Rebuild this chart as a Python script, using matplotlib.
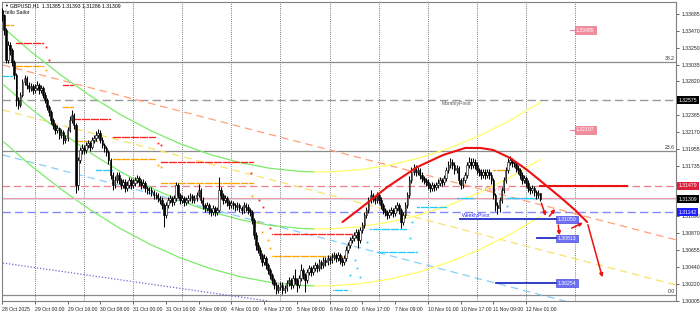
import matplotlib
matplotlib.use("Agg")
import matplotlib.pyplot as plt
import matplotlib.transforms as mtrans
import numpy as np

# ---------------- data ----------------
first_open = 1.3372
closes = [
 1.3367,1.3348,1.3309,1.3329,1.3322,1.3307,1.3290,1.3258,1.3252,1.3265,
 1.3281,1.3286,1.3277,1.3274,1.3276,1.3271,1.3274,1.3277,1.3271,1.3274,
 1.3265,1.3258,1.3249,1.3243,1.3232,1.3226,1.3220,1.3222,1.3213,1.3217,
 1.3207,1.3209,1.3220,1.3232,1.3239,1.3226,1.3149,1.3181,1.3194,1.3196,
 1.3194,1.3200,1.3203,1.3198,1.3207,1.3209,1.3213,1.3216,1.3207,1.3200,
 1.3196,1.3191,1.3181,1.3162,1.3149,1.3155,1.3162,1.3155,1.3149,1.3153,
 1.3145,1.3149,1.3155,1.3149,1.3152,1.3155,1.3158,1.3153,1.3149,1.3152,
 1.3145,1.3143,1.3143,1.3140,1.3136,1.3136,1.3132,1.3130,1.3123,1.3110,
 1.3123,1.3130,1.3132,1.3127,1.3132,1.3149,1.3136,1.3130,1.3132,1.3127,
 1.3130,1.3132,1.3135,1.3130,1.3132,1.3136,1.3143,1.3130,1.3123,1.3119,
 1.3123,1.3117,1.3114,1.3119,1.3114,1.3117,1.3143,1.3136,1.3130,1.3132,
 1.3127,1.3123,1.3126,1.3123,1.3121,1.3123,1.3119,1.3117,1.3123,1.3121,
 1.3117,1.3114,1.3104,1.3085,1.3072,1.3066,1.3059,1.3050,1.3055,1.3046,
 1.3040,1.3033,1.3027,1.3021,1.3014,1.3018,1.3021,1.3014,1.3017,1.3023,
 1.3027,1.3021,1.3030,1.3027,1.3021,1.3030,1.3040,1.3033,1.3027,1.3037,
 1.3042,1.3037,1.3042,1.3046,1.3042,1.3050,1.3046,1.3053,1.3050,1.3055,
 1.3053,1.3057,1.3059,1.3055,1.3059,1.3053,1.3050,1.3055,1.3066,1.3072,
 1.3078,1.3081,1.3085,1.3089,1.3078,1.3091,1.3098,1.3110,1.3117,1.3130,
 1.3136,1.3132,1.3130,1.3136,1.3130,1.3123,1.3117,1.3114,1.3110,1.3114,
 1.3117,1.3113,1.3119,1.3123,1.3117,1.3101,1.3110,1.3123,1.3136,1.3155,
 1.3166,1.3171,1.3166,1.3168,1.3162,1.3158,1.3155,1.3153,1.3149,1.3145,
 1.3149,1.3146,1.3149,1.3152,1.3155,1.3153,1.3158,1.3168,1.3175,1.3179,
 1.3175,1.3168,1.3171,1.3155,1.3149,1.3155,1.3162,1.3175,1.3179,1.3175,
 1.3179,1.3175,1.3168,1.3166,1.3162,1.3166,1.3162,1.3166,1.3162,1.3155,
 1.3136,1.3123,1.3119,1.3130,1.3143,1.3155,1.3168,1.3179,1.3181,1.3177,
 1.3177,1.3171,1.3168,1.3162,1.3155,1.3158,1.3152,1.3145,1.3143,1.3145,
 1.3140,1.3136,1.31385,1.31309]
highs = [
 1.3376,1.3369,1.3350,1.3334,1.3333,1.3325,1.3310,1.3293,1.3262,1.3268,
 1.3285,1.3290,1.3289,1.3281,1.3280,1.3279,1.3278,1.3282,1.3280,1.3277,
 1.3276,1.3268,1.3260,1.3252,1.3245,1.3235,1.3229,1.3226,1.3224,1.3221,
 1.3219,1.3213,1.3224,1.3237,1.3245,1.3241,1.3228,1.3185,1.3198,1.3201,
 1.3200,1.3204,1.3207,1.3206,1.3211,1.3213,1.3218,1.3221,1.3219,1.3210,
 1.3203,1.3199,1.3194,1.3183,1.3165,1.3160,1.3166,1.3165,1.3158,1.3157,
 1.3156,1.3154,1.3159,1.3158,1.3156,1.3159,1.3162,1.3161,1.3156,1.3156,
 1.3154,1.3148,1.3147,1.3146,1.3143,1.3140,1.3139,1.3135,1.3133,1.3126,
 1.3127,1.3134,1.3136,1.3135,1.3136,1.3153,1.3151,1.3139,1.3136,1.3135,
 1.3134,1.3136,1.3139,1.3138,1.3136,1.3140,1.3150,1.3145,1.3133,1.3126,
 1.3127,1.3126,1.3120,1.3123,1.3122,1.3121,1.3159,1.3147,1.3139,1.3136,
 1.3135,1.3130,1.3130,1.3129,1.3126,1.3127,1.3126,1.3122,1.3127,1.3126,
 1.3124,1.3120,1.3117,1.3106,1.3088,1.3076,1.3069,1.3062,1.3060,1.3058,
 1.3049,1.3043,1.3036,1.3030,1.3024,1.3022,1.3025,1.3024,1.3021,1.3027,
 1.3031,1.3030,1.3034,1.3041,1.3030,1.3034,1.3047,1.3043,1.3036,1.3041,
 1.3046,1.3045,1.3046,1.3050,1.3049,1.3054,1.3053,1.3057,1.3056,1.3059,
 1.3058,1.3061,1.3063,1.3062,1.3063,1.3062,1.3056,1.3059,1.3070,1.3076,
 1.3082,1.3085,1.3089,1.3093,1.3092,1.3095,1.3102,1.3114,1.3121,1.3134,
 1.3142,1.3139,1.3135,1.3140,1.3139,1.3133,1.3126,1.3120,1.3117,1.3118,
 1.3121,1.3120,1.3123,1.3127,1.3126,1.3120,1.3114,1.3127,1.3140,1.3160,
 1.3172,1.3176,1.3175,1.3172,1.3171,1.3165,1.3161,1.3158,1.3156,1.3152,
 1.3153,1.3152,1.3153,1.3156,1.3159,1.3158,1.3162,1.3172,1.3180,1.3184,
 1.3182,1.3178,1.3175,1.3173,1.3158,1.3159,1.3166,1.3179,1.3185,1.3183,
 1.3183,1.3182,1.3178,1.3171,1.3169,1.3170,1.3169,1.3170,1.3169,1.3165,
 1.3158,1.3139,1.3127,1.3134,1.3147,1.3159,1.3172,1.3183,1.3186,1.3184,
 1.3181,1.3180,1.3174,1.3171,1.3165,1.3162,1.3161,1.3155,1.3148,1.3149,
 1.3148,1.3143,1.3142,1.31393]
lows = [
 1.3360,1.3342,1.3305,1.3306,1.3316,1.3302,1.3285,1.3250,1.3247,1.3249,
 1.3262,1.3277,1.3272,1.3268,1.3270,1.3266,1.3267,1.3271,1.3266,1.3267,
 1.3261,1.3254,1.3245,1.3238,1.3227,1.3221,1.3215,1.3216,1.3208,1.3209,
 1.3202,1.3203,1.3206,1.3217,1.3229,1.3221,1.3139,1.3143,1.3177,1.3189,
 1.3189,1.3190,1.3196,1.3193,1.3195,1.3203,1.3205,1.3209,1.3203,1.3196,
 1.3191,1.3186,1.3176,1.3157,1.3142,1.3145,1.3151,1.3150,1.3144,1.3145,
 1.3140,1.3141,1.3145,1.3144,1.3145,1.3148,1.3151,1.3148,1.3144,1.3145,
 1.3140,1.3138,1.3138,1.3135,1.3131,1.3131,1.3127,1.3125,1.3118,1.3095,
 1.3106,1.3119,1.3126,1.3122,1.3123,1.3129,1.3132,1.3125,1.3126,1.3122,
 1.3123,1.3126,1.3128,1.3126,1.3126,1.3128,1.3133,1.3126,1.3118,1.3114,
 1.3115,1.3112,1.3109,1.3110,1.3109,1.3110,1.3114,1.3131,1.3125,1.3126,
 1.3122,1.3118,1.3119,1.3118,1.3116,1.3117,1.3114,1.3112,1.3113,1.3116,
 1.3112,1.3109,1.3099,1.3080,1.3066,1.3061,1.3054,1.3045,1.3046,1.3041,
 1.3035,1.3028,1.3022,1.3016,1.3009,1.3010,1.3014,1.3009,1.3010,1.3013,
 1.3019,1.3016,1.3017,1.3022,1.3011,1.3017,1.3026,1.3028,1.3012,1.3023,
 1.3033,1.3032,1.3033,1.3038,1.3037,1.3038,1.3041,1.3042,1.3045,1.3046,
 1.3048,1.3049,1.3053,1.3050,1.3051,1.3048,1.3045,1.3046,1.3051,1.3062,
 1.3068,1.3074,1.3077,1.3081,1.3068,1.3074,1.3087,1.3094,1.3106,1.3113,
 1.3126,1.3127,1.3125,1.3126,1.3125,1.3118,1.3112,1.3109,1.3105,1.3106,
 1.3110,1.3108,1.3109,1.3115,1.3112,1.3094,1.3097,1.3106,1.3119,1.3132,
 1.3151,1.3162,1.3161,1.3162,1.3157,1.3153,1.3150,1.3148,1.3144,1.3140,
 1.3141,1.3141,1.3142,1.3145,1.3148,1.3148,1.3149,1.3154,1.3164,1.3171,
 1.3170,1.3163,1.3164,1.3150,1.3144,1.3145,1.3151,1.3158,1.3171,1.3170,
 1.3171,1.3170,1.3163,1.3161,1.3157,1.3158,1.3157,1.3158,1.3157,1.3150,
 1.3131,1.3115,1.3112,1.3114,1.3126,1.3139,1.3151,1.3164,1.3175,1.3172,
 1.3172,1.3166,1.3163,1.3157,1.3150,1.3151,1.3147,1.3140,1.3138,1.3139,
 1.3135,1.3131,1.3132,1.31286]

date_tick_bars = [0,16,32,48,64,80,96,112,128,144,160,176,192,208,224,240,256]
date_tick_labels = ["28 Oct 2025","29 Oct 00:00","29 Oct 16:00","30 Oct 08:00",
    "31 Oct 00:00","31 Oct 16:00","3 Nov 09:00","4 Nov 01:00","4 Nov 17:00",
    "5 Nov 09:00","6 Nov 01:00","6 Nov 17:00","7 Nov 09:00","10 Nov 01:00",
    "10 Nov 17:00","11 Nov 09:00","12 Nov 01:00"]
grid_bars = [16,40,64,88,112,136,160,184,208,232,256,280]
# visible right-axis price labels (the ones hidden under the coloured boxes are left out)
price_ticks = [1.33685,1.33470,1.33250,1.33035,1.32820,1.32385,1.32170,
    1.31955,1.31735,1.31090,1.30870,1.30655,1.30440,1.30220,1.30005]

fib_levels = [1.33070, 1.31926, 1.30077]
fib_names = ["38.2", "23.6", "0.0"]
monthly_pivot = 1.32575
daily_pivot = 1.31479
weekly_pivot = 1.31142
last_price = 1.31309

# regression channel
chan_bars = [0.9,14.0,28.7,43.3,57.9,72.6,87.2,101.9,116.5,131.1,145.8,152.6,
             160.4,175.0,189.6,204.3,218.9,233.6,248.2,262.9]
chan_upper = [1.33505,1.33204,1.32902,1.32632,1.32392,1.32188,1.32017,1.31879,1.31775,
              1.31703,1.31664,1.31658,1.31658,1.31686,1.31746,1.31840,1.31967,1.32128,
              1.32320,1.32548]
chan_mid = [1.32773,1.32472,1.32170,1.31900,1.31660,1.31456,1.31285,1.31147,1.31043,
            1.30971,1.30932,1.30926,1.30926,1.30954,1.31014,1.31108,1.31235,1.31396,
            1.31588,1.31816]
chan_lower = [1.32041,1.31740,1.31438,1.31168,1.30928,1.30724,1.30553,1.30415,1.30311,
              1.30239,1.30200,1.30194,1.30194,1.30222,1.30282,1.30376,1.30503,1.30664,
              1.30856,1.31084]
chan_turn = 11  # index where curves turn from green to yellow

# straight trend lines: (bar0, price0, bar1, price1)
salmon_line = (0.4, 1.33030, 329.2, 1.30784)
yellow_line = (0.4, 1.32453, 329.2, 1.30205)
skyblue_line = (0.4, 1.31875, 329.2, 1.29628)
dotted_blue_line = (0.4, 1.30488, 130.0, 1.30000)

# stair dot levels: (bar start, bar end, price)
red_steps = [(6.7,20.4,1.33313),(29.7,35.0,1.32774),(35.0,53.1,1.32337),
             (54.0,75.0,1.32106),(77.5,122.8,1.31785),(132.1,171.6,1.30860)]
orange_steps = [(0.9,5.3,1.33544),(6.7,20.4,1.33018),(29.7,35.0,1.32491),
                (36.0,46.7,1.32055),(54.0,75.0,1.31823),(77.5,122.8,1.31515),
                (132.1,166.7,1.30578),(239.9,246.7,1.31682)]
cyan_steps = [(0.4,5.3,1.32889),(45.8,54.0,1.31682),(161.9,168.7,1.30141),
              (183.3,202.8,1.30629),(179.9,197.9,1.30925),(202.8,217.5,1.31207),
              (222.3,230.1,1.31323),(246.7,261.9,1.31323)]
red_dots_x = [21.4,22.8,76.0,77.5,121.4,125.3,127.7,131.1]
red_dots_y = [1.33262,1.33095,1.32029,1.32003,1.31644,1.31297,1.31207,1.30937]
orange_dots_x = [21.4,76.0,77.5,122.3,122.3,124.8,127.2,129.7,131.1]
orange_dots_y = [1.32966,1.31746,1.31721,1.31348,1.31066,1.31014,1.30886,1.30783,1.30681]
cyan_dots_x = [172.6,173.6,170.2,175.0,178.4,199.4,200.4,246.7]
cyan_dots_y = [1.30526,1.30424,1.30334,1.30308,1.30758,1.30809,1.31014,1.31220]

# red hand-drawn arc
arc_bars = [166.3,174.0,188.2,202.8,215.5,226.3,233.6,239.9,248.2,256.5,264.3,272.6,279.9,285.8]
arc_prices = [1.31014,1.31168,1.31463,1.31720,1.31875,1.31965,1.31965,1.31939,1.31836,
              1.31682,1.31515,1.31335,1.31168,1.31014]

# projection targets (blue boxes) and pink levels
target_prices = [1.31047, 1.30803, 1.30231]
target_labels = ["1.31050", "1.30813", "1.30254"]
target_starts = [223.8, 261.4, 241.4]
target_end = 271.1
pink_prices = [1.33476, 1.32196]
pink_labels = ["1.33485", "1.32197"]
pink_start = 280.0

# ---------------- figure ----------------
plt.rcParams['font.family'] = ['Liberation Sans', 'DejaVu Sans']
fig = plt.figure(figsize=(7, 3.14), dpi=100)
ax = fig.add_axes([2/700, 13/314, 674/700, 299/314])
ax.set_xlim(0.4, 329.2)
ax.set_ylim(1.30000, 1.33839)
fig.patch.set_facecolor('white')

FS = 3.7
for s in ax.spines.values():
    s.set_color('#7f7f7f')
    s.set_linewidth(0.8)

# grid
for g in grid_bars:
    ax.axvline(g, color='#505050', lw=0.6, ls=(0, (1, 1.6)), zorder=1)

# fib lines
for lv, nm in zip(fib_levels, fib_names):
    ax.axhline(lv, color='#8a8a8a', lw=0.9, zorder=1)
    ax.text(328.6, lv + 0.00008, nm, fontsize=FS, ha='right', va='bottom', color='#333333')

# pivots
ax.axhline(monthly_pivot, color='#9a9a9a', lw=1.0, ls=(0, (6, 3)), zorder=1)
ax.axhline(daily_pivot, color='#EE7F8C', lw=0.9, ls=(0, (6, 3)), zorder=1)
ax.axhline(weekly_pivot, color='#8888FF', lw=1.0, ls=(0, (6, 3)), zorder=1)
ax.text(214.5, monthly_pivot - 0.00012, "MonthlyPivot", fontsize=FS, color='#555555', va='top')
ax.text(236.0, daily_pivot - 0.00012, "Daily Pivot", fontsize=FS, color='#F07080', va='top')
ax.text(224.8, weekly_pivot - 0.00012, "WeeklyPivot", fontsize=FS, color='#3333FF', va='top')

# straight lines
def seg(l, **kw):
    ax.plot([l[0], l[2]], [l[1], l[3]], **kw)
seg(salmon_line, color='#FFA07A', lw=0.9, ls=(0, (6, 4)), zorder=2)
seg(yellow_line, color='#F8E36A', lw=0.9, ls=(0, (6, 4)), zorder=2)
seg(skyblue_line, color='#87CEFA', lw=0.9, ls=(0, (6, 4)), zorder=2)
seg(dotted_blue_line, color='#6A6ACD', lw=0.9, ls=(0, (1, 1.5)), zorder=2)

# channel curves
for cv in (chan_upper, chan_mid, chan_lower):
    ax.plot(chan_bars[:chan_turn + 1], cv[:chan_turn + 1], color='#7CEB6A', lw=0.9, zorder=2)
    ax.plot(chan_bars[chan_turn:], cv[chan_turn:], color='#FFFF66', lw=0.9, zorder=2)

# current price lines
ax.axhline(last_price + 0.0001, color='#F29C9C', lw=0.8, zorder=2)
ax.axhline(last_price - 0.00005, color='#D8D8E8', lw=0.8, zorder=2)

# stair dots
for steps, col in ((red_steps, '#FF2020'), (orange_steps, '#FFA500'), (cyan_steps, '#22CCFF')):
    for b0, b1, p in steps:
        xs = np.arange(b0, b1 + 0.01, 0.55)
        ax.plot(xs, [p] * len(xs), ls='none', marker='s', ms=0.9, color=col, mew=0, zorder=3)
ax.plot(red_dots_x, red_dots_y, ls='none', marker='s', ms=1.3, color='#FF2020', mew=0, zorder=3)
ax.plot(orange_dots_x, orange_dots_y, ls='none', marker='s', ms=1.3, color='#FFA500', mew=0, zorder=3)
ax.plot(cyan_dots_x, cyan_dots_y, ls='none', marker='s', ms=1.3, color='#22CCFF', mew=0, zorder=3)

# candles
n = len(closes)
idx = np.arange(n)
c = np.array(closes)
o = np.r_[first_open, c[:-1]]
h = np.array(highs)
l = np.array(lows)
ax.vlines(idx, l, h, color='black', lw=0.75, zorder=4)
up = c >= o
bh = np.abs(c - o)
bb = np.minimum(c, o)
ax.bar(idx[up], bh[up], bottom=bb[up], width=0.8, color='white', edgecolor='black', lw=0.4, zorder=5)
ax.bar(idx[~up], bh[~up], bottom=bb[~up], width=0.8, color='black', edgecolor='black', lw=0.4, zorder=5)

# red arc and arrows
ax.plot(arc_bars, arc_prices, color='#EE1111', lw=1.5, zorder=6, solid_capstyle='round')
ax.plot([263.0, 305.5], [daily_pivot, daily_pivot], color='#EE1111', lw=1.5, zorder=6)
arrow_kw = dict(arrowstyle='-|>', color='#EE1111', lw=1.1, mutation_scale=5)
ax.annotate('', xy=(266.0, 1.31060), xytext=(263.0, 1.31290), arrowprops=arrow_kw, zorder=7)
ax.annotate('', xy=(271.0, 1.31210), xytext=(266.5, 1.31060), arrowprops=arrow_kw, zorder=7)
ax.annotate('', xy=(272.5, 1.30810), xytext=(271.5, 1.31010), arrowprops=arrow_kw, zorder=7)
ax.annotate('', xy=(285.0, 1.31020), xytext=(277.0, 1.30920), arrowprops=arrow_kw, zorder=7)
ax.annotate('', xy=(293.6, 1.30270), xytext=(285.8, 1.31014), arrowprops=arrow_kw, zorder=7)

# targets
for p, lab, s0 in zip(target_prices, target_labels, target_starts):
    ax.plot([s0, target_end], [p, p], color='#2030C0', lw=1.3, zorder=6)
    ax.text(target_end + 0.3, p, lab, fontsize=FS, color='white', va='center', ha='left', zorder=8,
            bbox=dict(boxstyle='square,pad=0.25', facecolor='#6F6FF6', edgecolor='#3030D0', lw=0.4))
for p, lab in zip(pink_prices, pink_labels):
    ax.plot([pink_start - 2.5, pink_start], [p, p], color='#F08A98', lw=0.8, zorder=6)
    ax.text(pink_start + 0.3, p, lab, fontsize=FS, color='white', va='center', ha='left', zorder=8,
            bbox=dict(boxstyle='square,pad=0.25', facecolor='#F28C9C', edgecolor='#E06070', lw=0.4))

# axes ticks
ax.yaxis.tick_right()
ax.set_yticks(price_ticks)
ax.set_yticklabels([f"{v:.5f}" for v in price_ticks], fontsize=FS)
ax.tick_params(axis='y', length=2.5, width=0.5, pad=1.5, colors='#222222')
ax.set_xticks(date_tick_bars)
ax.set_xticklabels(date_tick_labels, fontsize=FS, ha='left')
ax.tick_params(axis='x', length=2.5, width=0.5, pad=1.5, colors='#222222')

# right side colored price boxes
tr = mtrans.blended_transform_factory(ax.transAxes, ax.transData)
for p, fc in ((monthly_pivot, 'black'), (daily_pivot, '#E0203A'), (last_price, 'black'), (weekly_pivot, '#1E1EFF')):
    ax.text(1.004, p, f"{p:.5f}", transform=tr, fontsize=FS, color='white', va='center', ha='left',
            zorder=10, clip_on=False,
            bbox=dict(boxstyle='square,pad=0.3', facecolor=fc, edgecolor='none'))

# title
fig.text(4/700, 1 - 6/314, "\u25bc", fontsize=2.8, va='center', ha='left', color='black')
fig.text(10/700, 1 - 5.5/314, "GBPUSD,H1  1.31385 1.31393 1.31286 1.31309", fontsize=FS,
         va='center', ha='left', color='black')
fig.text(3/700, 1 - 12.5/314, "Hello Sailor", fontsize=FS, va='center', ha='left', color='black')

fig.savefig('out.png', dpi=100, facecolor='white')
